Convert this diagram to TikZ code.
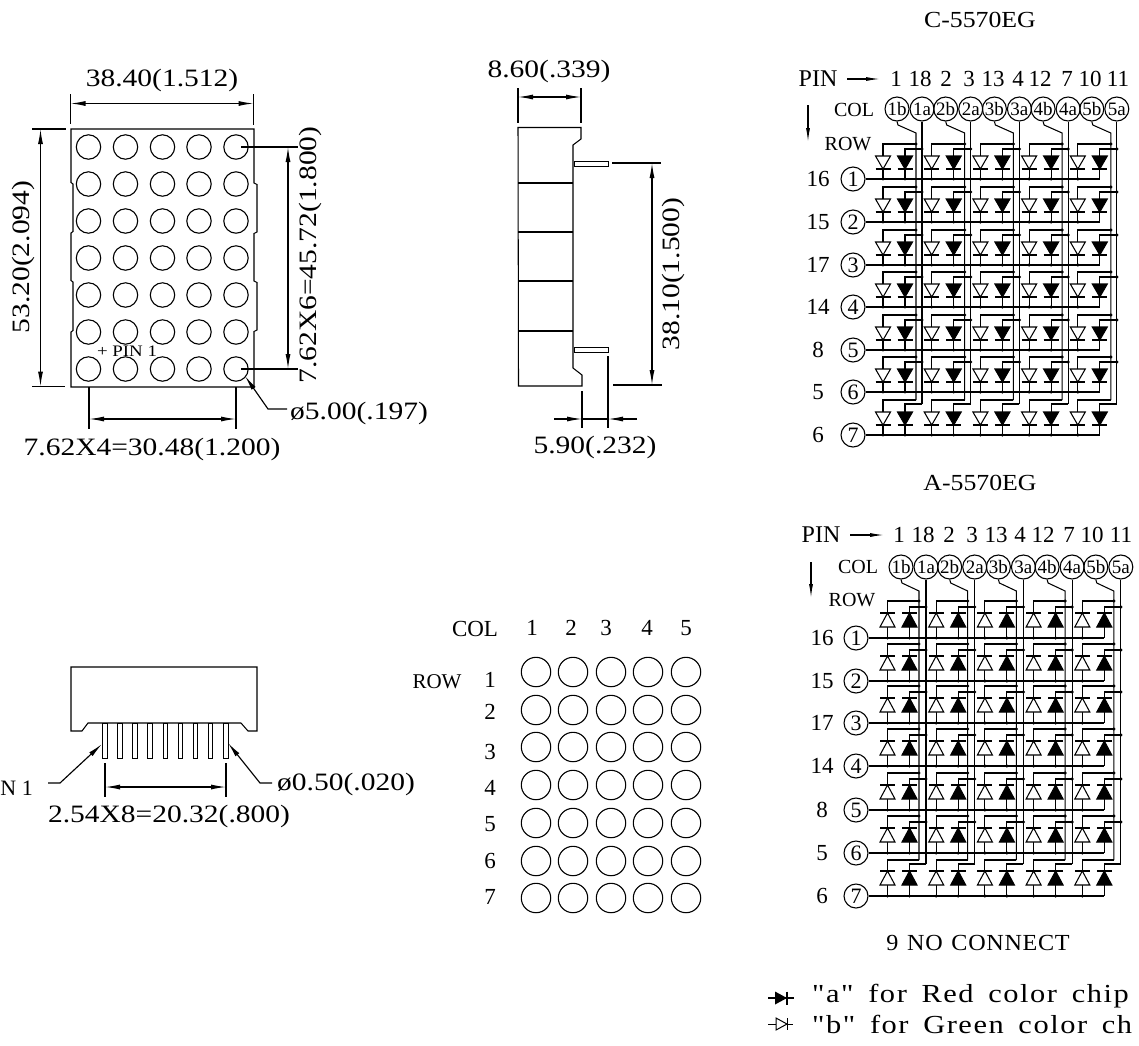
\documentclass[tikz,border=0pt]{standalone}
\usepackage{fontspec}
\setmainfont{Liberation Serif}
\newfontfamily\dimf[FakeStretch=1.18]{Liberation Serif}
\newfontfamily\titf[FakeStretch=1.12]{Liberation Serif}
\newfontfamily\ncf[FakeStretch=1.05,LetterSpace=3,WordSpace=1.3]{Liberation Serif}
\newfontfamily\legf[FakeStretch=1.17,LetterSpace=6,WordSpace=1.6]{Liberation Serif}
\usetikzlibrary{arrows.meta}
\newcommand\fz[1]{\fontsize{#1}{#1}\selectfont}
\tikzset{
  ln/.style={line width=1.05pt,black},
  dim/.style={line width=1.15pt,black,{Latex[length=15pt,width=5pt]}-{Latex[length=15pt,width=5pt]}},
  lead/.style={line width=1.15pt,black,-{Latex[length=15pt,width=5pt]}},
  dimtxt/.style={inner sep=0pt,font=\dimf\fz{25}},
  numtxt/.style={inner sep=0pt,font=\rmfamily\fz{23}},
  titletxt/.style={inner sep=0pt,font=\titf\fz{23}},
  colc/.style={circle,draw,line width=1.1pt,minimum size=24pt,inner sep=0pt,font=\rmfamily\fz{19}},
  rowc/.style={circle,draw,line width=1.1pt,minimum size=24pt,inner sep=0pt,font=\rmfamily\fz{22}},
}
% LED matrix; parameters are set with \def before the call
% #1 prefix, #2 rows list y/pin/index
\newcommand\ledgrid[2]{
  \foreach \k in {1,...,5}{
    \pgfmathsetmacro\cbx{\cb+48.7*(\k-1)}
    \pgfmathsetmacro\cax{\ca+48.7*(\k-1)}
    \pgfmathsetmacro\vbx{\vb+48.7*(\k-1)}
    \pgfmathsetmacro\vax{\ca+48.7*(\k-1)}
    \node[colc] (#1b\k) at (\cbx,\cy) {\k b};
    \node[colc] (#1a\k) at (\cax,\cy) {\k a};
    \pgfmathsetmacro\sly{\cy+16}
    \pgfmathsetmacro\sry{\cy+24}
    \coordinate (#1bk\k) at (\vbx,\sry);
    \coordinate (#1be\k) at (\vbx,\lastb);
    \coordinate (#1ae\k) at (\vax,\lasta);
    \draw[ln] (#1b\k.south) -- (\cbx+1,\sly) -- (#1bk\k) -- (#1be\k);
    \draw[ln,line width=1.2pt] (#1a\k.south) -- (#1ae\k);
  }
  \foreach \ry/\pin/\n in {#2}{
    \node[rowc] (#1r\n) at (\rcx,\ry) {\n};
    \node[numtxt] (#1p\n) at (\rlx,\ry) {\pin};
    \pgfmathsetmacro\lastx{\da+4*48.7}
    \coordinate (#1re\n) at (\lastx,\ry);
    \draw[ln,line width=1.2pt] (#1r\n.east) -- (#1re\n);
    \foreach \k in {1,...,5}{
      \pgfmathsetmacro\xb{\db+48.7*(\k-1)}
      \pgfmathsetmacro\xa{\da+48.7*(\k-1)}
      \pgfmathsetmacro\vbx{\vb+48.7*(\k-1)}
      \pgfmathsetmacro\vax{\ca+48.7*(\k-1)}
      \pgfmathsetmacro\hb{\ry+(\n<7?\ob:\obl)}
      \pgfmathsetmacro\ha{\ry+(\n<7?\oa:\oal)}
      \pgfmathsetmacro\ybase{\ry+\obase}
      \pgfmathsetmacro\yapex{\ry+\oapex}
      \pgfmathsetmacro\ytop{min(\ybase,\yapex)}
      \pgfmathsetmacro\ybot{max(\ybase,\yapex)}
      % wires
      \draw[ln] (\vbx,\hb) -- (\xb,\hb) -- (\xb,\ytop);
      \draw[ln] (\vax,\ha) -- (\xa,\ha) -- (\xa,\ytop);
      \draw[ln] (\xb,\ybot) -- (\xb,\ry);
      \draw[ln] (\xa,\ybot) -- (\xa,\ry);
      % diodes
      \draw[ln,fill=white] (\xb-7.5,\ybase) -- (\xb+7.5,\ybase) -- (\xb,\yapex) -- cycle;
      \draw[ln,fill=black] (\xa-7.5,\ybase) -- (\xa+7.5,\ybase) -- (\xa,\yapex) -- cycle;
      \draw[ln] (\xb-7.5,\yapex) -- (\xb+7.5,\yapex);
      \draw[ln] (\xa-7.5,\yapex) -- (\xa+7.5,\yapex);
      % junctions
      \fill (\xb,\ry) circle (1.7pt);
      \ifnum\k<5 \fill (\xa,\ry) circle (1.7pt); \fi
      \ifnum\n<7
        \fill (\vbx,\hb) circle (1.7pt);
        \fill (\vax,\ha) circle (1.7pt);
      \fi
    }
  }
}
\begin{document}
\begin{tikzpicture}[x=1pt,y=-1pt]
\useasboundingbox (0,0) rectangle (1139,1045);
\fill[white] (0,0) rectangle (1139,1045);

%% ---------- top-left package
\draw[ln] (71,129) -- (254,129) -- (254,183) -- (257,184.5) -- (257,232) -- (254,233.5) -- (254,281) -- (257,282.5) -- (257,330) -- (254,331.5) -- (254,387)
  -- (71,387) -- (71,332) -- (73,330.5) -- (73,282) -- (71,280.5) -- (71,233) -- (73,231.5) -- (73,184) -- (71,182.5) -- cycle;
\foreach \px in {88.5,125.5,162.5,199,236}
  \foreach \py in {147,184,221,258,295,332,369}
    \draw[line width=1.1pt] (\px,\py) circle (12.2pt);
\node[inner sep=0pt,font=\dimf\fz{16}] (pinone) at (127,351) {+ PIN 1};

\draw[ln] (70.5,94) -- (70.5,124);
\draw[ln] (253.5,94) -- (253.5,125);
\draw[dim] (70.5,103.5) -- (253.5,103.5);
\node[dimtxt] (w) at (162,80) {38.40(1.512)};

\draw[ln] (32,129) -- (66,129);
\draw[ln] (32,386.5) -- (65,386.5);
\draw[dim] (40.5,129) -- (40.5,386.5);
\node[dimtxt,rotate=90] (h) at (23,257) {53.20(2.094)};

\draw[ln] (241,147) -- (298,147);
\draw[ln] (241,369) -- (298,369);
\draw[dim] (288,147) -- (288,369);
\node[dimtxt,rotate=90] (hh) at (310,255) {7.62X6=45.72(1.800)};

\draw[ln] (89,387) -- (89,429);
\draw[ln] (236,387) -- (236,429);
\draw[dim] (89,419) -- (236,419);
\node[dimtxt] (ww) at (152,449) {7.62X4=30.48(1.200)};

\node[dimtxt,anchor=west] (dia) at (290,413) {ø5.00(.197)};
\coordinate (diastart) at (287,409);
\coordinate (diaend) at (245,376);
\draw[lead] (diastart) -- (268,409) -- (diaend);

%% ---------- side view
\draw[ln] (518,127.5) -- (581,127.5) -- (581,139) -- (573,145) -- (573,368) -- (582,375) -- (582,386) -- (518.5,386) -- cycle;
\foreach \dy in {183,232,281,331} \draw[ln] (518,\dy) -- (573,\dy);
\draw[line width=1pt,fill=white] (574,161.5) rectangle (608,166);
\draw[line width=1pt,fill=white] (574,347.5) rectangle (608,352);

\draw[ln] (518,88) -- (518,123);
\draw[ln] (581,88) -- (581,123);
\draw[dim] (518,97) -- (581,97);
\node[dimtxt] (sw) at (549,71) {8.60(.339)};

\draw[ln] (612,163) -- (661,163);
\draw[ln] (613,385) -- (662,385);
\draw[dim] (652,163) -- (652,385);
\node[dimtxt,rotate=90] (sh) at (673,274) {38.10(1.500)};

\draw[ln] (582,391) -- (582,428);
\draw[ln] (608,356) -- (608,428);
\draw[lead] (554,419) -- (582,419);
\draw[lead] (637,419) -- (608,419);
\draw[ln] (582,419) -- (608,419);
\node[dimtxt] (sd) at (595,447) {5.90(.232)};

%% ---------- front view
\draw[ln] (71,667) -- (257,667) -- (257,731) -- (248,731) -- (241,723) -- (88,723) -- (82,731) -- (71,731) -- cycle;
\foreach \qx in {105,120,135,150,165.3,180.3,195.3,210.3,225.7}
  \draw[line width=1pt,fill=white] (\qx-2.3,723) rectangle (\qx+2.3,758);
\draw[ln] (105,763) -- (105,797);
\draw[ln] (226,763) -- (226,797);
\draw[dim] (105,787) -- (226,787);
\node[dimtxt] (fw) at (169,816) {2.54X8=20.32(.800)};
\node[inner sep=0pt,font=\rmfamily\fz{22},anchor=east] (fp) at (33,788) {N 1};
\coordinate (fpend) at (102,744);
\draw[lead] (48,783) -- (60,783) -- (fpend);
\node[dimtxt,anchor=west] (fd) at (277,784) {ø0.50(.020)};
\coordinate (fdend) at (228,743);
\draw[lead] (272,783) -- (260,783) -- (fdend);

%% ---------- centre lamp grid
\node[inner sep=0pt,font=\rmfamily\fz{23}] (colt) at (475,629) {COL};
\node[inner sep=0pt,font=\rmfamily\fz{21}] (rowt) at (437,682) {ROW};
\foreach \qx/\lab in {532/1,571/2,606/3,647/4,686/5}
  \node[numtxt] (ch\lab) at (\qx,628) {\lab};
\foreach \qy/\lab in {680/1,712/2,752/3,788/4,824/5,861/6,897/7}
  \node[numtxt] (rh\lab) at (490,\qy) {\lab};
\foreach \qx in {536,573,611,648,686}
  \foreach \qy in {672,710,747,785,823,861,898}
    \draw[line width=1.1pt] (\qx,\qy) circle (14.7pt);

%% ---------- C-5570EG
\node[titletxt] (ct) at (980,20) {C-5570EG};
\node[inner sep=0pt,font=\rmfamily\fz{24}] (cpin) at (818,79) {PIN};
\draw[line width=1.1pt,-{Latex[length=14pt,width=4pt]}] (847,79) -- (880,79);
\foreach \qx/\lab in {896/1,920/18,946/2,969/3,993/13,1018/4,1040/12,1067/7,1090/10,1118/11}
  \node[numtxt] (cn\lab) at (\qx,79) {\lab};
\node[inner sep=0pt,font=\rmfamily\fz{20}] (ccol) at (854,110) {COL};
\node[inner sep=0pt,font=\rmfamily\fz{20}] (crow) at (848,144) {ROW};
\draw[line width=1.1pt,-{Latex[length=14pt,width=4pt]}] (808,105) -- (808,142);
\def\cb{897}\def\ca{922}\def\cy{109}\def\vb{916}\def\db{883}\def\da{905}
\def\rcx{853}\def\rlx{818}
\def\ob{-35}\def\oa{-30}\def\obl{-35}\def\oal{-31}\def\obase{-23}\def\oapex{-10}
\def\lastb{400}\def\lasta{404}
\ledgrid{C}{179/16/1,222/15/2,265/17/3,307/14/4,350/8/5,392/5/6,435/6/7}

%% ---------- A-5570EG
\node[titletxt] (at) at (980,483) {A-5570EG};
\node[inner sep=0pt,font=\rmfamily\fz{24}] (apin) at (821,535) {PIN};
\draw[line width=1.1pt,-{Latex[length=14pt,width=4pt]}] (850,535) -- (884,535);
\foreach \qx/\lab in {899/1,923/18,949/2,972/3,996/13,1020/4,1043/12,1069/7,1092/10,1121/11}
  \node[numtxt] (an\lab) at (\qx,535) {\lab};
\node[inner sep=0pt,font=\rmfamily\fz{20}] (acol) at (858,567) {COL};
\node[inner sep=0pt,font=\rmfamily\fz{20}] (arow) at (852,600) {ROW};
\draw[line width=1.1pt,-{Latex[length=14pt,width=4pt]}] (811,562) -- (811,598);
\def\cb{901}\def\ca{926}\def\cy{567}\def\vb{919}\def\db{887.5}\def\da{909.5}
\def\rcx{856}\def\rlx{822}
\def\ob{-37}\def\oa{-31}\def\obl{-36}\def\oal{-32}\def\obase{-11}\def\oapex{-25}
\def\lastb{860}\def\lasta{864}
\ledgrid{A}{638/16/1,681/15/2,723/17/3,766/14/4,810/8/5,853/5/6,896/6/7}

%% ---------- notes
\node[inner sep=0pt,font=\ncf\fz{23}] (nc) at (978,943) {9 NO CONNECT};
\node[inner sep=0pt,anchor=base west,font=\legf\fz{26}] (lega) at (812,1002) {"a" for Red color chip};
\node[inner sep=0pt,anchor=base west,font=\legf\fz{26}] (legb) at (812,1033) {"b" for Green color ch};
\coordinate (la) at (768,998); \coordinate (lb) at (794,998);
\draw[ln] (la) -- (lb);
\fill (775,991.5) -- (787,998) -- (775,1004.5) -- cycle;
\draw[ln] (787,991.5) -- (787,1004.5);
\coordinate (lc) at (768,1024); \coordinate (ld) at (793,1024);
\draw[line width=1pt] (lc) -- (ld);
\draw[line width=1pt,fill=white] (776,1018) -- (787,1024) -- (776,1030) -- cycle;
\draw[line width=1pt] (787,1018) -- (787,1030);
\end{tikzpicture}
\end{document}
